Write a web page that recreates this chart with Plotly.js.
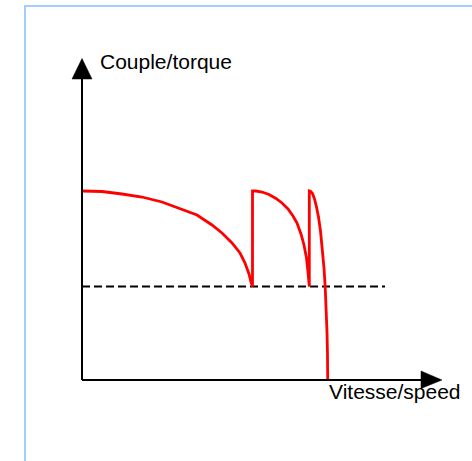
<!DOCTYPE html>
<html>
<head>
<meta charset="utf-8">
<script src="https://cdn.plot.ly/plotly-3.0.1.min.js"></script>
<style>
  html, body { margin: 0; padding: 0; background: #ffffff; overflow: hidden; }
  #frame { position: absolute; left: 24px; top: 5px; width: 600px; height: 600px;
           border-left: 2px solid #a3ccff; border-top: 2px solid #a3ccff; }
  #chart { position: absolute; left: 0; top: 0; width: 472px; height: 461px; }
</style>
</head>
<body>
<div id="frame"></div>
<div id="chart"></div>
<script>
// Motor torque vs speed while switching through rotor resistance steps
var speed = [0, 20, 40, 60, 80, 100, 115, 130, 140, 150, 158, 163, 167, 169, 170,
             170.5, 170.5, 174, 180, 187, 194, 200, 206, 211, 215, 219, 222, 224.5, 226, 227,
             227.3, 227.3, 228.7, 230.5, 232.5, 234.5, 236.5, 238.5, 240.5, 242, 243.2, 244.2, 245, 245.5, 245.7];
var torque = [189, 188.5, 186, 183, 178, 171, 165, 155, 147, 137, 127, 117, 106, 98, 93.5,
              93.5, 189, 189, 188, 185.5, 181.5, 177, 171, 164, 157, 146, 135, 122, 108, 93.5,
              93.5, 189, 188.5, 186.5, 181, 173, 163, 149, 131, 112, 93, 72, 48, 25, 0];
var loadSpeed = [0, 303];
var loadTorque = [93.5, 93.5];
var yLabel = "Couple/torque";
var xLabel = "Vitesse/speed";

var traces = [
  { x: loadSpeed, y: loadTorque, mode: "lines", cliponaxis: false,
    line: { color: "#000000", width: 1.8, dash: "8px,4px" }, hoverinfo: "skip" },
  { x: speed, y: torque, mode: "lines", cliponaxis: false,
    line: { color: "#ff0000", width: 2.8 }, hoverinfo: "skip" }
];

var layout = {
  width: 472, height: 461,
  margin: { l: 22, r: 0, t: 5, b: 1 },
  paper_bgcolor: "rgba(0,0,0,0)", plot_bgcolor: "rgba(0,0,0,0)",
  showlegend: false,
  xaxis: { range: [-60, 390], visible: false, fixedrange: true },
  yaxis: { range: [-80, 375], visible: false, fixedrange: true },
  shapes: [
    { type: "line", xref: "x", yref: "y", x0: 0, y0: 0, x1: 0, y1: 305,
      line: { color: "#000", width: 2 } },
    { type: "path", xref: "x", yref: "y", path: "M -10 301 L 10 301 L 0 321.5 Z",
      fillcolor: "#000", line: { color: "#000", width: 0.5 } },
    { type: "line", xref: "x", yref: "y", x0: 0, y0: 0, x1: 342, y1: 0,
      line: { color: "#000", width: 2 } },
    { type: "path", xref: "x", yref: "y", path: "M 339 9 L 339 -8.5 L 360 0 Z",
      fillcolor: "#000", line: { color: "#000", width: 0.5 } }
  ],
  annotations: [
    { text: yLabel, xref: "x", yref: "y", x: 16, y: 319, xanchor: "left", yanchor: "middle",
      showarrow: false, font: { family: "Liberation Sans, Arial, sans-serif", size: 21, color: "#000" } },
    { text: xLabel, xref: "x", yref: "y", x: 245, y: -11, xanchor: "left", yanchor: "middle",
      showarrow: false, font: { family: "Liberation Sans, Arial, sans-serif", size: 21, color: "#000" } }
  ]
};

Plotly.newPlot("chart", traces, layout, { staticPlot: true, displayModeBar: false });
</script>
</body>
</html>
